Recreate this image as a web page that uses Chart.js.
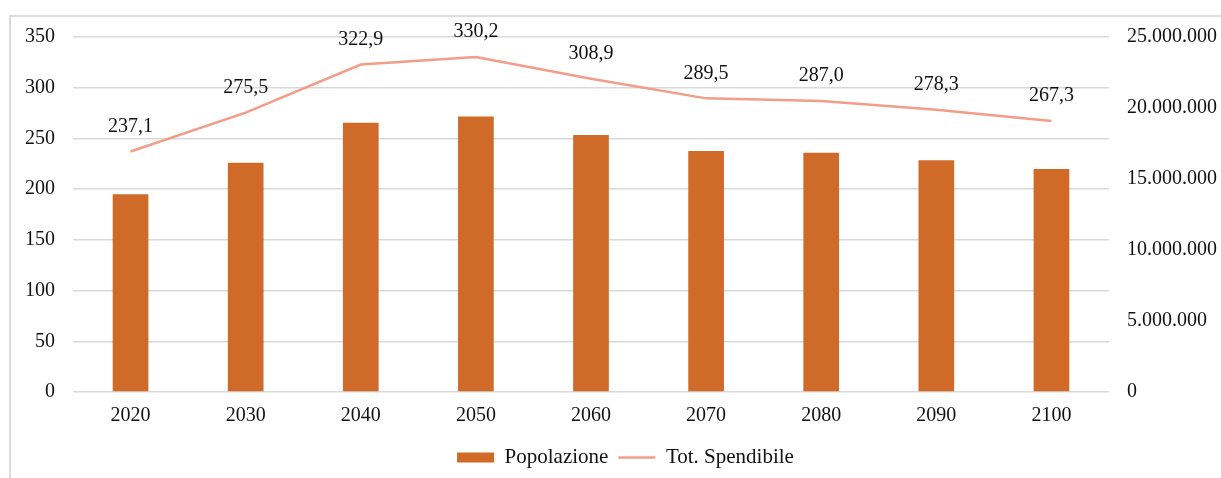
<!DOCTYPE html>
<html>
<head>
<meta charset="utf-8">
<script src="https://cdn.jsdelivr.net/npm/chart.js@4.4.1/dist/chart.umd.min.js"></script>
<style>
  html, body { margin: 0; padding: 0; background: #fff; }
  .frame { position: absolute; left: 9px; top: 15px; width: 1300px; height: 600px; border: 2px solid #dcdcdc; }
  .wrap { position: absolute; left: 0; top: 0; width: 1221px; height: 478px; }
</style>
</head>
<body>
<div class="frame"></div>
<div class="wrap"><canvas id="chart" width="1221" height="478"></canvas></div>
<script>
const years = ["2020", "2030", "2040", "2050", "2060", "2070", "2080", "2090", "2100"];
const popolazione = [195, 226, 265.5, 271.5, 253.5, 237.5, 235.8, 228.5, 219.8];
const totSpendibile = [237.1, 275.5, 322.9, 330.2, 308.9, 289.5, 287.0, 278.3, 267.3];
const leftTicks = [0, 350, 50];
const rightTicks = [0, 25000000, 5000000];

const fmtDots = (v) => String(Math.round(v)).replace(/\B(?=(\d{3})+(?!\d))/g, ".");

Chart.defaults.font.family = "'Liberation Serif', 'Times New Roman', serif";
Chart.defaults.font.size = 20;
Chart.defaults.color = "#111";

// labels above the line points
const lineLabels = {
  id: "lineLabels",
  afterDatasetsDraw(chart) {
    const ctx = chart.ctx;
    const meta = chart.getDatasetMeta(1);
    ctx.save();
    ctx.font = "20px 'Liberation Serif', 'Times New Roman', serif";
    ctx.fillStyle = "#111";
    ctx.textAlign = "center";
    ctx.textBaseline = "middle";
    meta.data.forEach((pt, i) => {
      ctx.fillText(totSpendibile[i].toFixed(1).replace(".", ","), pt.x, pt.y - 25);
    });
    ctx.restore();
  }
};

// legend sits a bit right of centre in the original
const legendShift = {
  id: "legendShift",
  afterLayout(chart) {
    chart.legend.left += 15;
    chart.legend.right += 15;
  }
};

new Chart(document.getElementById("chart"), {
  type: "bar",
  data: {
    labels: years,
    datasets: [
      {
        label: "Popolazione",
        data: popolazione,
        backgroundColor: "rgb(208, 106, 40)",
        borderWidth: 0,
        barPercentage: 0.31,
        categoryPercentage: 1,
        pointStyle: "rect",
        yAxisID: "y",
        order: 2
      },
      {
        type: "line",
        label: "Tot. Spendibile",
        data: totSpendibile,
        borderColor: "rgb(243, 156, 136)",
        backgroundColor: "rgb(243, 156, 136)",
        borderWidth: 2.5,
        pointRadius: 0,
        pointStyle: "line",
        tension: 0,
        yAxisID: "y",
        order: 1
      }
    ]
  },
  options: {
    responsive: false,
    animation: false,
    layout: { padding: { top: 37, left: 0, right: 0, bottom: 0 } },
    plugins: {
      tooltip: { enabled: false },
      legend: {
        position: "bottom",
        labels: {
          usePointStyle: true,
          pointStyleWidth: 37,
          boxHeight: 10,
          padding: 10,
          color: "#111",
          font: { size: 21 },
          sort: (a, b) => a.datasetIndex - b.datasetIndex
        }
      }
    },
    scales: {
      x: {
        grid: { display: false, drawTicks: false },
        border: { display: false },
        ticks: { padding: 12 },
        afterFit: (s) => { s.height = 45; }
      },
      y: {
        position: "left",
        min: leftTicks[0],
        max: leftTicks[1],
        ticks: { stepSize: leftTicks[2], padding: 18 },
        grid: { color: "#d9d9d9", lineWidth: 1.5, drawTicks: false },
        border: { display: false },
        afterFit: (s) => { s.width = 73; }
      },
      y1: {
        position: "right",
        min: rightTicks[0],
        max: rightTicks[1],
        ticks: { stepSize: rightTicks[2], padding: 18, callback: (v) => fmtDots(v) },
        grid: { display: false, drawTicks: false },
        border: { display: false },
        afterFit: (s) => { s.width = 112; }
      }
    }
  },
  plugins: [lineLabels, legendShift]
});
</script>
</body>
</html>
